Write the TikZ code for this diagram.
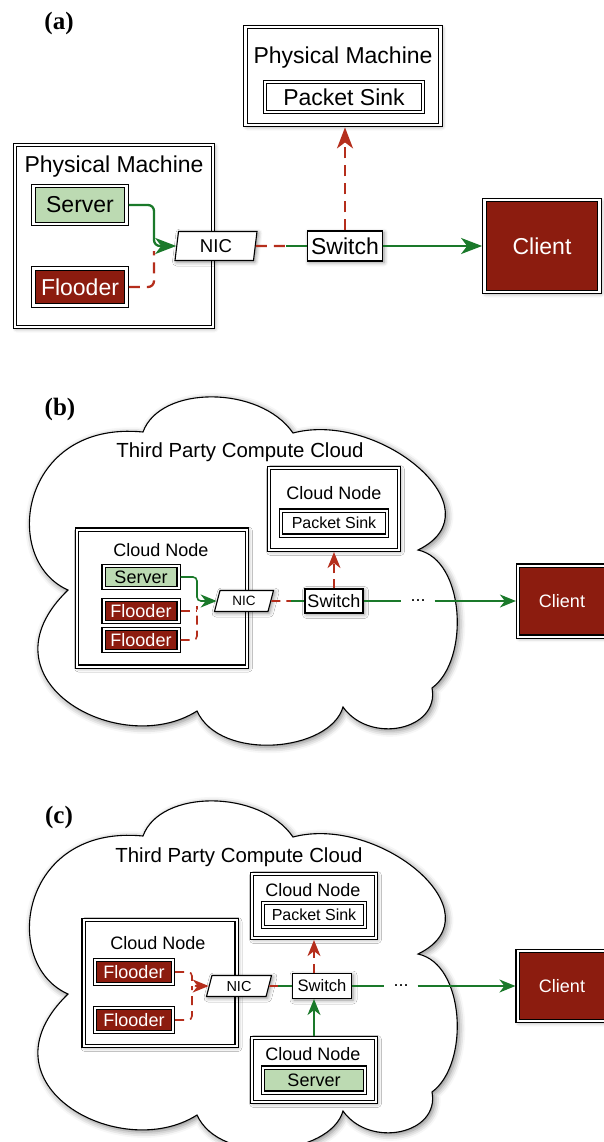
\documentclass[tikz,border=0pt]{standalone}
\usepackage{fontspec}
\setmainfont{Liberation Sans}
\newfontfamily\labelfont{Liberation Serif}
\usetikzlibrary{arrows,arrows.meta,shapes.geometric,shadows.blur,positioning,calc}
\definecolor{srvgreen}{RGB}{188,218,178}
\definecolor{fldred}{RGB}{140,28,15}
\definecolor{flowgreen}{RGB}{26,121,42}
\definecolor{floodred}{RGB}{181,46,28}

\begin{document}
\begin{tikzpicture}[x=1pt,y=-1pt,
box/.style={draw,double,double distance=2.4pt,line width=1.2pt,fill=white,inner sep=0pt,outer sep=2.4pt},
slim/.style={double distance=2pt,line width=1.1pt,outer sep=2.1pt},
plain/.style={draw,line width=1.1pt,fill=white,inner sep=0pt,outer sep=0.55pt},
srv/.style={box,fill=srvgreen},
fld/.style={box,fill=fldred,text=white},
nic/.style n args={2}{plain,trapezium,trapezium left angle=#1,trapezium right angle=#2,trapezium stretches body},
dims/.style 2 args={minimum width=#1,minimum height=#2},
shade/.style={blur shadow={shadow xshift=1.5pt,shadow yshift=-1.5pt,shadow blur radius=4pt,shadow opacity=45}},
lab/.style={font=\labelfont\bfseries\fontsize{25}{28}\selectfont},
fa/.style={font=\fontsize{23}{26}\selectfont},
fb/.style={font=\fontsize{18}{21}\selectfont},
ft/.style={font=\fontsize{20.4}{24}\selectfont},
fs/.style={font=\fontsize{16}{19}\selectfont},
flowA/.style={draw=flowgreen,line width=2.3pt},
floodA/.style={draw=floodred,line width=2.3pt,dash pattern=on 11pt off 7pt},
flowB/.style={draw=flowgreen,line width=1.6pt},
floodB/.style={draw=floodred,line width=1.6pt,dash pattern=on 9pt off 6pt},
arrA/.style={-{Stealth[length=21pt,width=16pt,inset=6pt]}},
arrB/.style={-{Stealth[length=16pt,width=13pt,inset=5pt]}},
dots/.style={fb,inner xsep=9pt,inner ysep=0pt},
cloud/.pic={
\draw[line width=1.1pt,fill=white,blur shadow={shadow xshift=2pt,shadow yshift=-2pt,shadow blur radius=6pt,shadow opacity=50}]
(68,590) .. controls (0,560) and (20,420) .. (143,432)
.. controls (160,385) and (260,385) .. (293,433)
.. controls (380,410) and (500,510) .. (418,550)
.. controls (465,560) and (470,660) .. (432,688)
.. controls (440,730) and (370,745) .. (343,707)
.. controls (330,752) and (220,762) .. (197,711)
.. controls (120,760) and (-25,680) .. (68,590) -- cycle;
}]
\useasboundingbox (0,0) rectangle (604,1142);

\node[lab] (labA) at (59,23) {(a)};
\node[box,shade,dims={195pt}{98pt}] (pmSink) at (343,76) {};
\node[fa] (pmSinkTitle) at (343,58) {Physical Machine};
\node[box,fa,dims={158pt}{30pt}] (sinkA) at (344,97) {Packet Sink};
\node[box,shade,dims={198pt}{182pt}] (pmSrv) at (114,236) {};
\node[fa] (pmSrvTitle) at (114,167) {Physical Machine};
\node[srv,fa,dims={93pt}{38pt}] (srvA) at (80,205) {Server};
\node[fld,fa,dims={93pt}{37pt}] (fldA) at (80,287) {Flooder};
\node[nic={75}{105},shade,dims={82pt}{29pt},font=\fontsize{18.6}{21}\selectfont] (nicA) at (216,246) {NIC};
\node[plain,shade,fa,dims={75pt}{30pt}] (swA) at (345,246) {Switch};
\node[fld,shade,fa,dims={115pt}{92pt}] (cliA) at (542,246) {Client};
\coordinate (jA) at (154,246);
\coordinate (mA) at (286,246);
\draw[floodA,rounded corners=6pt] (fldA.east) -| ($(jA)+(0,5)$);
\draw[flowA,arrA,rounded corners=6pt] (srvA.east) -| (jA) -- (nicA.west);
\draw[floodA] (nicA.east) -- (mA);
\draw[flowA] (mA) -- (swA.west);
\draw[floodA,arrA] (swA.north) -- (swA.north |- pmSink.south);
\draw[flowA,arrA] (swA.east) -- (cliA.west);

\pic at (0,0) {cloud};
\node[lab] (labB) at (60,409) {(b)};
\node[ft] (ttlB) at (240,452) {Third Party Compute Cloud};
\node[box,slim,shade,dims={170pt}{137pt}] (cnB) at (162,598) {};
\node[fb] (cnBTitle) at (161,550) {Cloud Node};
\node[srv,slim,fb,dims={75pt}{22pt}] (srvB) at (141,577) {Server};
\node[fld,slim,fb,dims={75pt}{22pt}] (flB1) at (141,611) {Flooder};
\node[fld,slim,fb,dims={75pt}{22pt}] (flB2) at (141,640) {Flooder};
\node[nic={60}{120},shade,dims={59pt}{21pt},font=\fontsize{13.5}{16}\selectfont] (nicB) at (244,601) {NIC};
\node[plain,shade,fb,dims={58pt}{24pt}] (swB) at (334,601) {Switch};
\node[box,slim,shade,dims={130pt}{82pt}] (sinkB) at (334,509) {};
\node[fb] (sinkBTitle) at (334,493) {Cloud Node};
\node[box,slim,fs,dims={106pt}{25pt}] (psB) at (334,523) {Packet Sink};
\node[dots] (dotsB) at (418,601) {...};
\node[fld,slim,shade,fb,dims={88pt}{71pt}] (cliB) at (562,601) {Client};
\coordinate (jB) at (197,601);
\coordinate (mB) at (291,601);
\draw[floodB,rounded corners=4pt] (flB2.east) -| ($(jB)+(0,5)$);
\draw[floodB] (flB1.east) -- (flB1.east -| jB);
\draw[flowB,arrB,rounded corners=4pt] (srvB.east) -| (jB) -- (nicB.west);
\draw[floodB] (nicB.east) -- (mB);
\draw[flowB] (mB) -- (swB.west);
\draw[floodB,arrB] (swB.north) -- (sinkB.south);
\draw[flowB] (swB.east) -- (dotsB.west);
\draw[flowB,arrB] (dotsB.east) -- (cliB.west);

\pic at (0,404) {cloud};
\node[lab] (labC) at (59,817) {(c)};
\node[ft] (ttlC) at (239,857) {Third Party Compute Cloud};
\node[box,slim,shade,dims={153pt}{126pt}] (cnC) at (160,983) {};
\node[fb] (cnCTitle) at (158,943) {Cloud Node};
\node[fld,slim,fb,dims={78pt}{24pt}] (flC1) at (134,972) {Flooder};
\node[fld,slim,fb,dims={78pt}{24pt}] (flC2) at (134,1020) {Flooder};
\node[nic={62}{118},shade,dims={65pt}{21pt},font=\fontsize{14.5}{17}\selectfont] (nicC) at (239,986) {NIC};
\node[plain,shade,dims={59pt}{25pt},font=\fontsize{16.6}{19}\selectfont] (swC) at (322,986) {Switch};
\node[box,slim,shade,dims={124pt}{64pt}] (sinkC) at (314,906) {};
\node[fb] (sinkCTitle) at (313,890) {Cloud Node};
\node[box,slim,fs,dims={102pt}{24pt}] (psC) at (314,915) {Packet Sink};
\node[box,slim,shade,dims={124pt}{64pt}] (srvNC) at (314,1070) {};
\node[fb] (srvNCTitle) at (313,1054) {Cloud Node};
\node[srv,slim,fb,dims={102pt}{25pt}] (srvC) at (314,1080) {Server};
\node[dots] (dotsC) at (401,986) {...};
\node[fld,slim,shade,fb,dims={89pt}{70pt}] (cliC) at (562,986) {Client};
\coordinate (jC) at (192,986);
\coordinate (mC) at (278,986);
\draw[floodB,rounded corners=4pt] (flC2.east) -| (jC);
\draw[floodB,arrB,rounded corners=4pt] (flC1.east) -| (jC) -- (nicC.west);
\draw[floodB] (nicC.east) -- (mC);
\draw[flowB] (mC) -- (swC.west);
\draw[floodB,arrB] (swC.north -| sinkC.south) -- (sinkC.south);
\draw[flowB,arrB] (srvNC.north) -- (srvNC.north |- swC.south);
\draw[flowB] (swC.east) -- (dotsC.west);
\draw[flowB,arrB] (dotsC.east) -- (cliC.west);
\end{tikzpicture}
\end{document}
